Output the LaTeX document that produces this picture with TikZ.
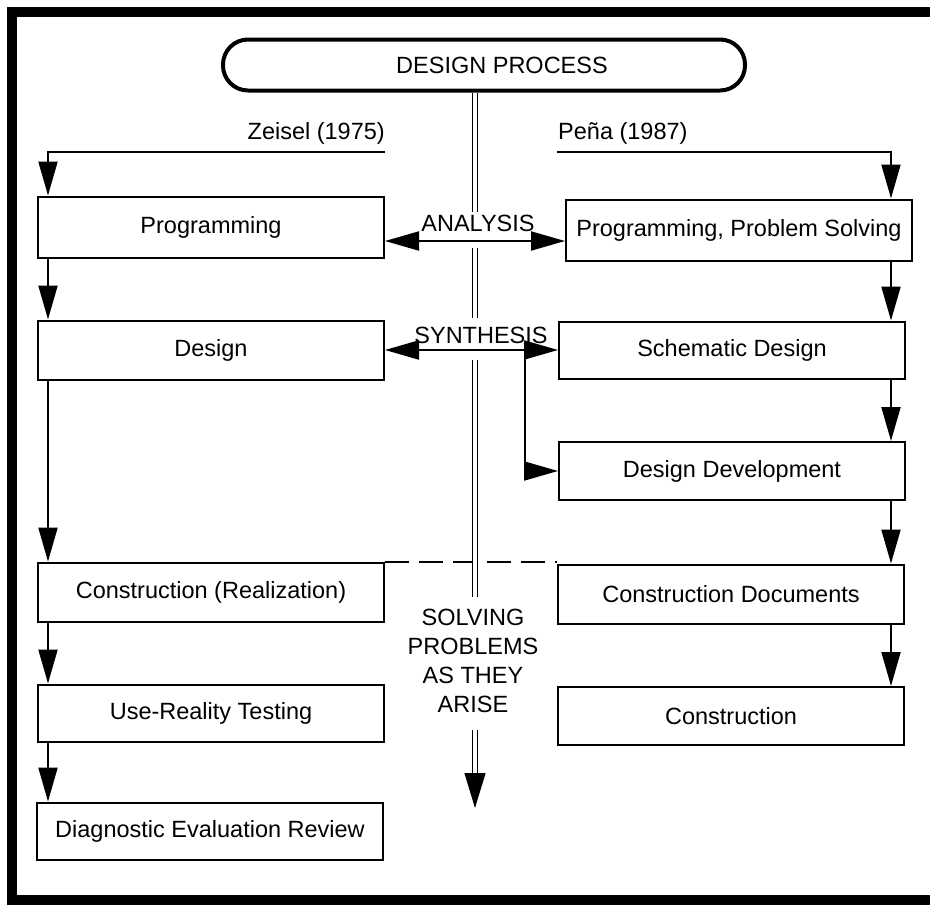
\documentclass[tikz,border=0pt]{standalone}
\usepackage{fontspec}
\setmainfont{Liberation Sans}
\usetikzlibrary{arrows.meta}
\tikzset{
  box/.style={draw, line width=2pt, minimum width=346pt, minimum height=59pt, inner sep=0pt},
  arr/.style={line width=2pt, -{Triangle[length=34pt,width=19pt]}},
  twoarr/.style={line width=2pt, {Triangle[length=34pt,width=19pt]}-{Triangle[length=34pt,width=19pt]}},
  dbl/.style={double, double distance=3.5pt, line width=1.5pt}
}
\begin{document}
\begin{tikzpicture}[x=1pt, y=-1pt, font=\fontsize{23.5}{29}\selectfont]
  \useasboundingbox (0,0) rectangle (930,905);
  \draw[line width=10pt] (12,12) rectangle (935,900);
  % title and the two authors
  \node (title) [draw, line width=4pt, rounded corners=25pt, minimum width=522pt, minimum height=51pt,
        label={[xshift=18pt]center:DESIGN PROCESS}] at (484,65) {};
  \node (zeisel) [anchor=east, inner sep=0pt] at (385,133) {Zeisel (1975)};
  \node (pena) [anchor=west, inner sep=0pt] at (558,133) {Peña (1987)};
  \coordinate (lx) at (48,0);
  \coordinate (rx) at (891,0);
  \coordinate (mid) at (475,0);
  \coordinate (zs) at (385,152);
  \coordinate (ps) at (557,152);
  % left column
  \node (prog) [box, minimum height=61pt] at (211,227) {Programming};
  \node (design) [box] at (211,350) {Design};
  \node (real) [box] at (211,592) {Construction (Realization)};
  \node (test) [box, minimum height=57pt] at (211,713) {Use-Reality Testing};
  \node (diag) [box, minimum height=57pt] at (210,831) {Diagnostic Evaluation Review};
  % right column
  \node (pps) [box, minimum height=61pt] at (739,230) {Programming, Problem Solving};
  \node (schem) [box, minimum height=57pt] at (732,350) {Schematic Design};
  \node (devel) [box, minimum height=58pt] at (732,471) {Design Development};
  \node (docs) [box] at (731,594) {Construction Documents};
  \node (build) [box, minimum height=58pt] at (731,716) {Construction};
  % middle texts
  \node (analysis) at (478,223) {ANALYSIS};
  \node (synthesis) at (481,335) {SYNTHESIS};
  \node (solve) [align=center] at (473,661) {SOLVING\\PROBLEMS\\AS THEY\\ARISE};
  % arrows
  \draw[arr] (zs) -- (zs -| lx) -- (prog.north -| lx);
  \draw[arr] (ps) -- (ps -| rx) -- (pps.north -| rx);
  \foreach \a/\b in {prog/design, design/real, real/test, test/diag}
    \draw[arr] (\a.south -| lx) -- (\b.north -| lx);
  \foreach \a/\b in {pps/schem, schem/devel, devel/docs, docs/build}
    \draw[arr] (\a.south -| rx) -- (\b.north -| rx);
  \draw[twoarr] ([yshift=-14pt]prog.east) -- ([yshift=-11pt]pps.west);
  \draw[twoarr] (design.east) -- (schem.west);
  \coordinate (fork) at (525,350);
  \draw[arr] (fork) |- (devel.west);
  \draw[line width=2pt, dash pattern=on 24pt off 10pt] (real.north east) -- (real.north east -| docs.west);
  % the middle double line
  \coordinate (m1) at (475,212);
  \coordinate (m2) at (475,248);
  \coordinate (m3) at (475,318);
  \coordinate (m4) at (475,360);
  \coordinate (m5) at (475,597);
  \coordinate (m6) at (475,730);
  \coordinate (m7) at (475,776);
  \coordinate (m8) at (475,808);
  \draw[dbl] (title.south -| mid) -- (m1) (m2) -- (m3) (m4) -- (m5) (m6) -- (m7);
  \draw[line width=1pt, -{Triangle[length=35pt,width=21pt]}] ([yshift=3pt]m7) -- (m8);
\end{tikzpicture}
\end{document}
